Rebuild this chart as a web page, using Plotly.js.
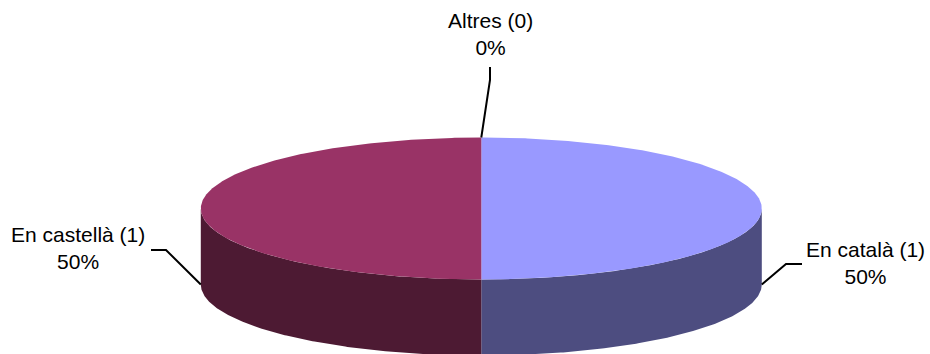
<!DOCTYPE html>
<html>
<head>
<meta charset="utf-8">
<script src="https://cdn.plot.ly/plotly-3.0.1.min.js"></script>
<style>
  html, body { margin: 0; padding: 0; background: #ffffff; }
  #chart { width: 930px; height: 354px; }
</style>
</head>
<body>
<div id="chart"></div>
<script>
// Responses by language
const categories = ['En català', 'En castellà', 'Altres'];
const counts = [1, 1, 0];

// Slice colours: lit top face and shaded wall
const topColors = ['#9999FF', '#993366', '#FFFFCC'];
const sideColors = ['#4D4D80', '#4D1A33', '#808066'];

// Geometry of the tilted disc, in pixel units of the hidden axes
const disc = { cx: 481.3, cy: 208.5, rx: 280.5, ry: 71, depth: 76 };

// Label boxes and leader-line elbows (layout only)
const labelLayout = [
  { x: 865, y: 263, path: [[786, 264], [802, 264]] },
  { x: 78,  y: 248, path: [[166, 250], [151, 250]] },
  { x: 490, y: 34,  path: [[490, 80], [490, 67]] }
];

const total = counts.reduce((a, b) => a + b, 0);
const deg = Math.PI / 180;

function topPt(a) {
  return [disc.cx + disc.rx * Math.sin(a * deg), disc.cy - disc.ry * Math.cos(a * deg)];
}
function botPt(a) {
  const p = topPt(a);
  return [p[0], p[1] + disc.depth];
}
function arc(a0, a1, fn) {
  const pts = [];
  const n = Math.max(2, Math.ceil(Math.abs(a1 - a0) / 0.5));
  for (let i = 0; i <= n; i++) pts.push(fn(a0 + (a1 - a0) * i / n));
  return pts;
}

// Slice angles, clockwise from twelve o'clock
const slices = [];
let start = 0;
counts.forEach((c, i) => {
  const sweep = total ? c / total * 360 : 0;
  slices.push({ i, a0: start, a1: start + sweep, mid: start + sweep / 2 });
  start += sweep;
});

const traces = [];

// Walls: only the front half of the rim is seen
slices.forEach(s => {
  const a = Math.max(s.a0, 90), b = Math.min(s.a1, 270);
  if (b <= a) return;
  const pts = arc(a, b, topPt).concat(arc(b, a, botPt));
  traces.push({
    type: 'scatter', mode: 'lines', fill: 'toself',
    x: pts.map(p => p[0]), y: pts.map(p => p[1]),
    fillcolor: sideColors[s.i], line: { width: 0, color: sideColors[s.i] },
    hoverinfo: 'skip'
  });
});

// Top faces
slices.forEach(s => {
  if (s.a1 - s.a0 <= 0) return;
  const pts = [[disc.cx, disc.cy]].concat(arc(s.a0, s.a1, topPt));
  traces.push({
    type: 'scatter', mode: 'lines', fill: 'toself',
    x: pts.map(p => p[0]), y: pts.map(p => p[1]),
    fillcolor: topColors[s.i], line: { width: 0, color: topColors[s.i] },
    hoverinfo: 'skip'
  });
});

// Leader lines from each slice's mid-angle to its label
const annotations = [];
slices.forEach(s => {
  const m = ((s.mid % 360) + 360) % 360;
  const anchor = Math.cos(m * deg) > 1e-9 ? topPt(m) : botPt(m);
  const lay = labelLayout[s.i];
  const pts = [anchor].concat(lay.path);
  traces.push({
    type: 'scatter', mode: 'lines',
    x: pts.map(p => p[0]), y: pts.map(p => p[1]),
    line: { color: '#000000', width: 2 }, hoverinfo: 'skip'
  });
  const pct = total ? Math.round(counts[s.i] / total * 100) : 0;
  annotations.push({
    xref: 'x', yref: 'y', x: lay.x, y: lay.y,
    xanchor: 'center', yanchor: 'middle', align: 'center',
    showarrow: false,
    text: categories[s.i] + ' (' + counts[s.i] + ')<br>' + pct + '%',
    font: { family: 'Liberation Sans, Arial, sans-serif', size: 21, color: '#000000' }
  });
});

const layout = {
  width: 930, height: 354,
  margin: { l: 0, r: 0, t: 0, b: 0, pad: 0 },
  paper_bgcolor: '#ffffff', plot_bgcolor: '#ffffff',
  showlegend: false, hovermode: false,
  xaxis: { range: [0, 930], visible: false, fixedrange: true },
  yaxis: { range: [354, 0], visible: false, fixedrange: true },
  annotations: annotations
};

Plotly.newPlot('chart', traces, layout, { staticPlot: true, displayModeBar: false });
</script>
</body>
</html>
